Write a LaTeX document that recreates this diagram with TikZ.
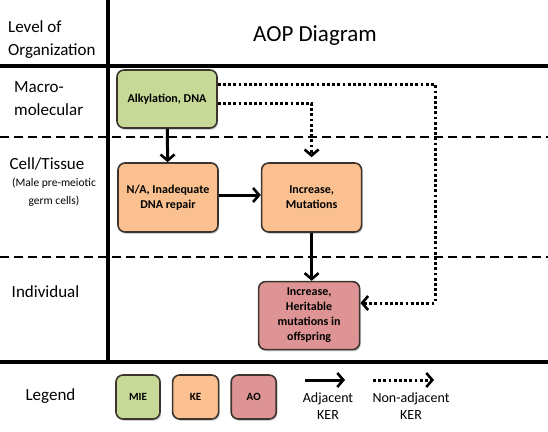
\documentclass[tikz,border=0pt]{standalone}
\usepackage{fontspec}
\setmainfont{Carlito}
\usetikzlibrary{arrows.meta,positioning,calc,shadows}
\definecolor{miegreen}{RGB}{198,217,150}
\definecolor{kebeige}{RGB}{250,192,143}
\definecolor{aored}{RGB}{222,148,148}
\definecolor{edgedark}{RGB}{60,52,45}

\begin{document}
\begin{tikzpicture}[x=1pt,y=-1pt,
    evbox/.style={draw=edgedark,line width=1.6pt,rounded corners=7pt,
                  align=center,inner sep=3pt,
                  font=\fontsize{12}{15}\selectfont\bfseries,
                  drop shadow={shadow xshift=1.2pt,shadow yshift=-1.8pt,opacity=0.35}},
    mie/.style={evbox,fill=miegreen,minimum width=100pt,minimum height=58pt},
    ke/.style={evbox,fill=kebeige,minimum width=100pt,minimum height=69pt},
    ao/.style={evbox,fill=aored,minimum width=101pt,minimum height=68pt},
    legbox/.style={evbox,minimum width=44pt,minimum height=44pt,
                   font=\fontsize{11}{12}\selectfont\bfseries},
    lvl/.style={font=\fontsize{17}{23}\selectfont,inner sep=0pt},
    rule/.style={line width=3.2pt},
    band/.style={line width=2.4pt,dash pattern=on 9pt off 5pt},
    arr/.style={-{Straight Barb[length=6pt,width=14pt,line width=2.6pt]},line width=3pt},
    dotarr/.style={arr,dash pattern=on 2.8pt off 2.4pt,line width=3pt}
  ]
    \useasboundingbox (0,0) rectangle (548,431);

    % table of levels
    \draw[band] (0,137) -- (548,137);
    \draw[band] (0,257) -- (548,257);
    \draw[rule] (0,66) -- (548,66);
    \draw[rule] (0,362) -- (548,362);
    \draw[rule] (108,0) -- (108,362);

    \node[lvl,anchor=west,align=left] (org) at (8,40) {Level of\\Organization};
    \node[font=\fontsize{23}{27}\selectfont] (title) at (315,36) {AOP Diagram};
    \node[lvl,anchor=west,align=left,text depth=0pt] (macro) at (14,99) {Macro-\\molecular};
    \node[lvl] (cell) at (47,164) {Cell/Tissue};
    \node[font=\fontsize{11.5}{18}\selectfont,align=center,below=7pt of cell.south,anchor=north,
          xshift=7pt,inner sep=0pt] (cellsub) {(Male pre-meiotic\\germ cells)};
    \node[lvl] (indiv) at (45.5,292) {Individual};
    \node[lvl] (legend) at (50.5,396) {Legend};

    % events
    \node[mie] (alk) at (167,99) {Alkylation, DNA};
    \node[ke] (repair) at (168,197.5) {N/A, Inadequate\\DNA repair};
    \node[ke,right=42pt of repair] (mut) {Increase,\\Mutations};
    \node[ao,below=48pt of mut,xshift=-2.5pt] (herit) {Increase,\\Heritable\\mutations in\\offspring};

    % adjacent KERs
    \draw[arr] (alk) -- (repair);
    \draw[arr] (repair.east |- 0,195) -- (mut.west |- 0,195);
    \draw[arr] (herit.north -| mut.south) ++(0,-48) -- (herit.north -| mut.south);

    % non-adjacent KERs
    \coordinate (far) at (435,303);
    \draw[dotarr] ($(alk.north east)!0.25!(alk.south east)$) -| (far) -- (herit.east |- far);
    \draw[dotarr,shorten >=5pt] ($(alk.north east)!0.57!(alk.south east)$) -| (mut.north);

    % legend
    \node[legbox,fill=miegreen] (lmie) at (138,397) {MIE};
    \node[legbox,fill=kebeige,minimum width=46pt,right=11pt of lmie] (lke) {KE};
    \node[legbox,fill=aored,minimum width=45pt,right=11pt of lke] (lao) {AO};

    \coordinate (adjA) at (305,380);
    \coordinate (adjB) at (345,380);
    \coordinate (nonA) at (373,380);
    \coordinate (nonB) at (434,380);
    \draw[arr] (adjA) -- (adjB);
    \draw[dotarr] (nonA) -- (nonB);
    \node[font=\fontsize{14}{17}\selectfont,align=center] (adjtxt) at (328,406) {Adjacent\\KER};
    \node[font=\fontsize{14}{17}\selectfont,align=center] (nontxt) at (411,406) {Non-adjacent\\KER};
  \end{tikzpicture}
\end{document}
